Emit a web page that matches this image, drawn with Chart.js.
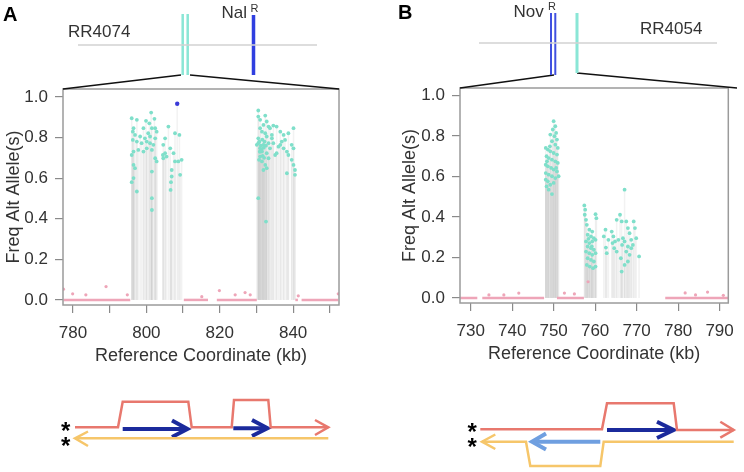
<!DOCTYPE html>
<html>
<head>
<meta charset="utf-8">
<script src="https://cdn.jsdelivr.net/npm/chart.js@4.4.1/dist/chart.umd.min.js"></script>
<style>
body { margin: 0; background: #fff; width: 744px; height: 472px; position: relative; overflow: hidden; }
canvas { position: absolute; top: 0; }
</style>
</head>
<body>
<canvas id="chartA" width="372" height="472" style="left:0"></canvas>
<canvas id="chartB" width="372" height="472" style="left:372px"></canvas>
<canvas id="overlay" width="744" height="472" style="left:0;pointer-events:none"></canvas>
<script>
// Panel A data (kb, allele freq)
const tealA = [
  [796.0,0.895],[797.4,0.887],[799.9,0.882],[801.3,0.923],[802.2,0.892],[800.8,0.870],[796.5,0.846],[796.3,0.829],
  [796.9,0.813],[798.3,0.805],[799.6,0.796],[799.2,0.846],[801.5,0.846],[802.4,0.846],[802.8,0.829],[800.5,0.821],
  [801.0,0.805],[802.4,0.796],[796.3,0.788],[797.4,0.780],[798.7,0.772],[800.1,0.780],[801.0,0.772],[801.9,0.764],
  [805.1,0.796],[806.0,0.854],[807.8,0.821],[809.0,0.813],[796.5,0.731],[796.0,0.714],[797.8,0.739],[799.2,0.731],
  [800.1,0.747],[801.5,0.739],[802.4,0.698],[802.8,0.682],[804.6,0.764],[806.5,0.747],[805.1,0.723],[805.5,0.706],
  [807.4,0.723],[807.8,0.682],[808.7,0.682],[809.6,0.690],[806.9,0.640],[806.9,0.608],[809.2,0.616],[796.5,0.665],
  [796.9,0.649],[796.5,0.600],[796.0,0.580],[797.4,0.534],[801.5,0.632],[806.7,0.580],[806.6,0.542],[801.5,0.501],
  [801.5,0.443],[804.5,0.714],[804.6,0.698],
  [830.5,0.933],[830.5,0.903],[831.0,0.887],[832.4,0.908],[832.8,0.879],[831.9,0.862],[833.3,0.854],[833.7,0.846],
  [831.0,0.846],[831.5,0.829],[832.4,0.821],[832.8,0.805],[834.2,0.796],[834.6,0.859],[835.5,0.854],[836.5,0.829],
  [837.4,0.813],[837.8,0.788],[838.7,0.821],[840.1,0.846],[836.9,0.780],[836.0,0.755],[835.1,0.714],[830.5,0.796],
  [830.5,0.772],[831.0,0.747],[831.5,0.731],[831.9,0.764],[833.3,0.772],[833.7,0.747],[832.8,0.723],[831.0,0.706],
  [831.5,0.682],[832.4,0.665],[832.8,0.649],[831.9,0.640],[833.3,0.698],[835.5,0.723],[838.3,0.731],[838.7,0.714],
  [839.6,0.764],[840.1,0.747],[839.6,0.690],[840.1,0.665],[840.5,0.640],[840.5,0.616],[838.3,0.624],[830.5,0.501],
  [832.6,0.386],[830.1,0.764],[834.2,0.813],[834.6,0.772],[836.5,0.764],[837.4,0.747],[830.8,0.780],[831.2,0.760],
  [831.6,0.790],[832.0,0.750],[832.2,0.780],[831.4,0.740],[830.9,0.730],[832.6,0.760],[831.7,0.710],[832.1,0.700],
  [830.7,0.690]
];
const blueA = [[808.4,0.966]];
const pinkDotsA = [
  [777.4,0.053],[779.9,0.030],[783.5,0.025],[789.0,0.066],[794.8,0.025],[815.1,0.016],[819.9,0.046],
  [824.2,0.025],[826.9,0.036],[828.3,0.025],[841.4,0.020],[852.3,0.030]
];
const pinkRunsA = [[777.4,795.6],[810.2,816.8],[819.2,830.1],[840.6,841.3],[842.3,852.3]];
const xTicksA = [780,790,800,810,820,830,840,850];

// Panel B data
const tealB = [
  [750.0,0.873],[750.4,0.848],[749.8,0.832],[750.6,0.815],[750.2,0.799],[750.8,0.782],[749.6,0.774],[750.4,0.757],
  [748.1,0.741],[748.6,0.733],[749.2,0.724],[750.0,0.716],[750.8,0.708],[748.3,0.700],[748.8,0.691],[749.6,0.683],
  [750.4,0.675],[751.0,0.667],[748.1,0.658],[748.6,0.650],[749.4,0.642],[750.0,0.634],[750.8,0.625],[748.1,0.617],
  [748.8,0.609],[749.6,0.601],[750.4,0.592],[751.2,0.601],[748.1,0.584],[748.6,0.576],[749.2,0.559],[750.0,0.568],
  [748.3,0.551],[748.8,0.535],[749.6,0.513],[751.0,0.741],[749.1,0.749],[748.4,0.675],[750.6,0.642],[749.2,0.807],
  [757.4,0.457],[757.6,0.436],[757.5,0.411],[757.8,0.386],[760.1,0.414],[760.3,0.394],[758.0,0.361],[758.6,0.337],
  [759.3,0.328],[758.2,0.312],[759.0,0.304],[759.7,0.295],[757.8,0.279],[758.6,0.271],[759.3,0.279],[760.1,0.287],
  [758.2,0.254],[759.0,0.246],[759.7,0.238],[757.8,0.229],[758.6,0.221],[759.3,0.213],[760.1,0.221],[758.2,0.196],
  [759.0,0.188],[759.7,0.180],[758.0,0.163],[758.7,0.155],[759.5,0.147],[760.1,0.155],[759.2,0.254],[758.4,0.292],
  [767.1,0.535],[762.5,0.337],[762.1,0.304],[762.6,0.249],[762.8,0.221],[764.0,0.328],[764.4,0.304],[764.8,0.279],
  [765.2,0.386],[766.0,0.411],[766.4,0.378],[764.2,0.271],[764.6,0.246],[765.2,0.229],[765.6,0.287],[766.7,0.295],
  [766.5,0.262],[766.2,0.196],[766.4,0.130],[767.5,0.378],[767.9,0.345],[768.3,0.320],[767.1,0.279],[767.9,0.254],
  [768.7,0.287],[769.3,0.378],[769.6,0.345],[769.9,0.295],[767.5,0.229],[768.3,0.213],[767.9,0.180],[767.1,0.163],
  [770.6,0.205],[768.7,0.246],[769.1,0.262],[763.2,0.287]
];
const pinkDotsB = [
  [734.4,0.015],[738.0,0.015],[741.6,0.024],[752.6,0.024],[755.0,0.020],[758.3,0.080],
  [781.7,0.025],[784.2,0.015],[787.1,0.029],[790.9,0.013]
];
const pinkRunsB = [[727.4,731.6],[732.8,747.7],[750.8,757.3],[776.9,792.1]];
const xTicksB = [730,740,750,760,770,780,790];

const yTicks = [0, 0.2, 0.4, 0.6, 0.8, 1.0];

// Schematic (page units, 744 x 472)
const genomeLines = [
  [[78,45],[317,45]],
  [[479,43],[717,43]]
];
const markerBars = [
  { pts: [[182.7,14],[182.7,75]], color: '#8ae6d6', w: 2.5 },
  { pts: [[187.7,14],[187.7,75]], color: '#8ae6d6', w: 2.5 },
  { pts: [[253.5,15],[253.5,75]], color: '#2f3fe0', w: 3.5 },
  { pts: [[551,13],[551,75]], color: '#4050e0', w: 2 },
  { pts: [[555.3,13],[555.3,75]], color: '#4050e0', w: 2 },
  { pts: [[577,13],[577,73]], color: '#8ae6d6', w: 3 }
];
const zoomLines = [
  [[63,89],[181,75]], [[190,75],[339,89]],
  [[460,88],[554,75]], [[577,73],[737,88]]
];
const strands = [
  { pts: [[75,427.3],[118,427.3],[122.7,401.7],[188.3,401.7],[191.7,427.3],[231.7,427.3],[234,400],[268.3,400],[270.7,427.3],[328.3,427.3]], color: '#e8786e', w: 2.5 },
  { pts: [[315,420],[328.3,427.3],[315,435]], color: '#e8786e', w: 2.5 },
  { pts: [[75,438.3],[328.3,438.3]], color: '#f6c66a', w: 2.5 },
  { pts: [[88,431.5],[75,438.3],[88,446]], color: '#f6c66a', w: 2.5 },
  { pts: [[122.7,429],[186,429]], color: '#1b2a9c', w: 4 },
  { pts: [[172,420.5],[187.5,429],[172,437]], color: '#1b2a9c', w: 4 },
  { pts: [[233.3,428.3],[266,428.3]], color: '#1b2a9c', w: 4 },
  { pts: [[252,420],[267.5,428.3],[252,436]], color: '#1b2a9c', w: 4 },
  { pts: [[480.3,429.3],[602,429.3],[607,403.3],[673.7,403.3],[677,430],[733.7,430]], color: '#e8786e', w: 2.5 },
  { pts: [[720.3,421.7],[733.7,430],[720.3,437.7]], color: '#e8786e', w: 2.5 },
  { pts: [[733.7,441.7],[603.7,441.7],[600.3,466],[530.3,466],[526,441.7],[482,441.7]], color: '#f6c66a', w: 2.5 },
  { pts: [[495.3,434.5],[482,441.7],[495.3,449]], color: '#f6c66a', w: 2.5 },
  { pts: [[600.3,441.7],[534,441.7]], color: '#6f9fe0', w: 4 },
  { pts: [[546,433.5],[532,441.7],[546,449.5]], color: '#6f9fe0', w: 4 },
  { pts: [[607,430],[672,430]], color: '#1b2a9c', w: 4 },
  { pts: [[657,421.7],[673.7,430],[657,438]], color: '#1b2a9c', w: 4 }
];
const labels = [
  { text: 'A', x: 3, y: 20.5, font: 'bold 20px', color: '#000' },
  { text: 'B', x: 398, y: 19, font: 'bold 20px', color: '#000' },
  { text: 'RR4074', x: 68, y: 36.5, font: '17px', color: '#333' },
  { text: 'Nal', x: 221.5, y: 18.3, font: '17px', color: '#333' },
  { text: 'R', x: 250.5, y: 11.5, font: '11px', color: '#333' },
  { text: 'RR4054', x: 640, y: 34, font: '17px', color: '#333' },
  { text: 'Nov', x: 513.5, y: 16.8, font: '17px', color: '#333' },
  { text: 'R', x: 548, y: 10, font: '11px', color: '#333' },
  { text: '*', x: 61, y: 438.5, font: 'bold 24px', color: '#000' },
  { text: '*', x: 61, y: 453.5, font: 'bold 24px', color: '#000' },
  { text: '*', x: 467.5, y: 439.5, font: 'bold 24px', color: '#000' },
  { text: '*', x: 467.5, y: 455, font: 'bold 24px', color: '#000' }
];

const FONT = "'Liberation Sans', Arial, Helvetica, sans-serif";
const TEAL = '#7fdfca';
const PINK = '#eea5b8';
const toXY = arr => arr.map(([x, y]) => ({ x, y }));

// draws a light grey drop line from each point down to zero
const dropLines = {
  id: 'dropLines',
  beforeDatasetsDraw(chart) {
    const c = chart.ctx;
    const y0 = chart.scales.y.getPixelForValue(0);
    c.save();
    c.strokeStyle = 'rgba(190,190,190,0.2)';
    c.lineWidth = 1.5;
    chart.data.datasets.forEach((ds, i) => {
      if (!ds.drop) return;
      chart.getDatasetMeta(i).data.forEach(p => {
        c.beginPath();
        c.moveTo(p.x, p.y);
        c.lineTo(p.x, y0);
        c.stroke();
      });
    });
    c.restore();
  }
};

const plotBox = {
  id: 'plotBox',
  afterDatasetsDraw(chart) {
    const { left, top, right, bottom } = chart.chartArea;
    const c = chart.ctx;
    c.save();
    c.strokeStyle = '#9b9b9b';
    c.lineWidth = 1.5;
    c.strokeRect(left, top, right - left, bottom - top);
    c.restore();
  }
};

function makePanel(id, o) {
  const runs = o.runs.map(([a, b]) => ({
    data: [{ x: a, y: 0 }, { x: b, y: 0 }],
    showLine: true, borderColor: PINK, borderWidth: 2.5, pointRadius: 0
  }));
  const datasets = [];
  if (o.blue) datasets.push({ data: toXY(o.blue), drop: true, backgroundColor: '#3a3ad8', pointRadius: 2.2, borderWidth: 0 });
  datasets.push({ data: toXY(o.teal), drop: true, backgroundColor: TEAL, pointRadius: 1.9, borderWidth: 0 });
  datasets.push({ data: toXY(o.pinkDots), backgroundColor: PINK, pointRadius: 1.6, borderWidth: 0 });
  datasets.push(...runs);

  return new Chart(document.getElementById(id), {
    type: 'scatter',
    data: { datasets },
    options: {
      responsive: false,
      animation: false,
      devicePixelRatio: 1,
      layout: { padding: o.padding },
      plugins: { legend: { display: false }, tooltip: { enabled: false } },
      scales: {
        x: {
          type: 'linear', min: o.xMin, max: o.xMax,
          afterBuildTicks: s => { s.ticks = o.xTicks.map(v => ({ value: v })); },
          afterFit: s => { s.height = 66; },
          grid: { drawOnChartArea: false, tickLength: 8, color: '#8a8a8a', lineWidth: 1.2 },
          border: { display: false },
          ticks: {
            color: '#333', padding: 10, autoSkip: false, maxRotation: 0,
            font: { family: FONT, size: 17 },
            callback: v => o.xLabel(v)
          },
          title: { display: true, text: 'Reference Coordinate (kb)', color: '#333', font: { family: FONT, size: 18 }, padding: { top: 4, bottom: 4 } }
        },
        y: {
          type: 'linear', min: o.yMin, max: o.yMax,
          afterBuildTicks: s => { s.ticks = yTicks.map(v => ({ value: v })); },
          afterFit: s => { s.width = o.yWidth; },
          grid: { drawOnChartArea: false, tickLength: 8, color: '#8a8a8a', lineWidth: 1.2 },
          border: { display: false },
          ticks: {
            color: '#333', padding: 7,
            font: { family: FONT, size: 17 },
            callback: v => v.toFixed(1)
          },
          title: { display: true, text: 'Freq Alt Allele(s)', color: '#333', font: { family: FONT, size: 18 }, padding: { top: 3, bottom: 3 } }
        }
      }
    },
    plugins: [dropLines, plotBox]
  });
}

makePanel('chartA', {
  teal: tealA, blue: blueA, pinkDots: pinkDotsA, runs: pinkRunsA,
  xMin: 777.27, xMax: 852.5, yMin: -0.025, yMax: 1.039,
  xTicks: xTicksA, xLabel: v => (v % 20 === 0 ? String(v) : ''),
  padding: { left: 0, top: 89, right: 33, bottom: 101 }, yWidth: 63
});

makePanel('chartB', {
  teal: tealB, pinkDots: pinkDotsB, runs: pinkRunsB,
  xMin: 727.43, xMax: 792.1, yMin: -0.025, yMax: 1.037,
  xTicks: xTicksB, xLabel: v => String(v),
  padding: { left: 24, top: 88, right: 7, bottom: 103 }, yWidth: 64
});

// schematic overlay: genome bars, zoom lines, strand diagrams
const lineSet = (pts, color, w) => ({
  data: toXY(pts), showLine: true, borderColor: color, borderWidth: w,
  pointRadius: 0, borderJoinStyle: 'miter', borderCapStyle: 'butt', clip: false
});

const textLabels = {
  id: 'textLabels',
  afterDatasetsDraw(chart) {
    const c = chart.ctx, sx = chart.scales.x, sy = chart.scales.y;
    c.save();
    c.textBaseline = 'alphabetic';
    labels.forEach(l => {
      c.font = l.font + ' ' + FONT;
      c.fillStyle = l.color;
      c.fillText(l.text, sx.getPixelForValue(l.x), sy.getPixelForValue(l.y));
    });
    c.restore();
  }
};

new Chart(document.getElementById('overlay'), {
  type: 'scatter',
  data: {
    datasets: [
      ...genomeLines.map(p => lineSet(p, '#d2d2d2', 1.5)),
      ...markerBars.map(b => lineSet(b.pts, b.color, b.w)),
      ...zoomLines.map(p => lineSet(p, '#111', 1.6)),
      ...strands.map(s => lineSet(s.pts, s.color, s.w))
    ]
  },
  options: {
    responsive: false,
    animation: false,
    devicePixelRatio: 1,
    layout: { padding: 0 },
    plugins: { legend: { display: false }, tooltip: { enabled: false } },
    scales: {
      x: { type: 'linear', display: false, min: 0, max: 744 },
      y: { type: 'linear', display: false, min: 0, max: 472, reverse: true }
    }
  },
  plugins: [textLabels]
});
</script>
</body>
</html>
